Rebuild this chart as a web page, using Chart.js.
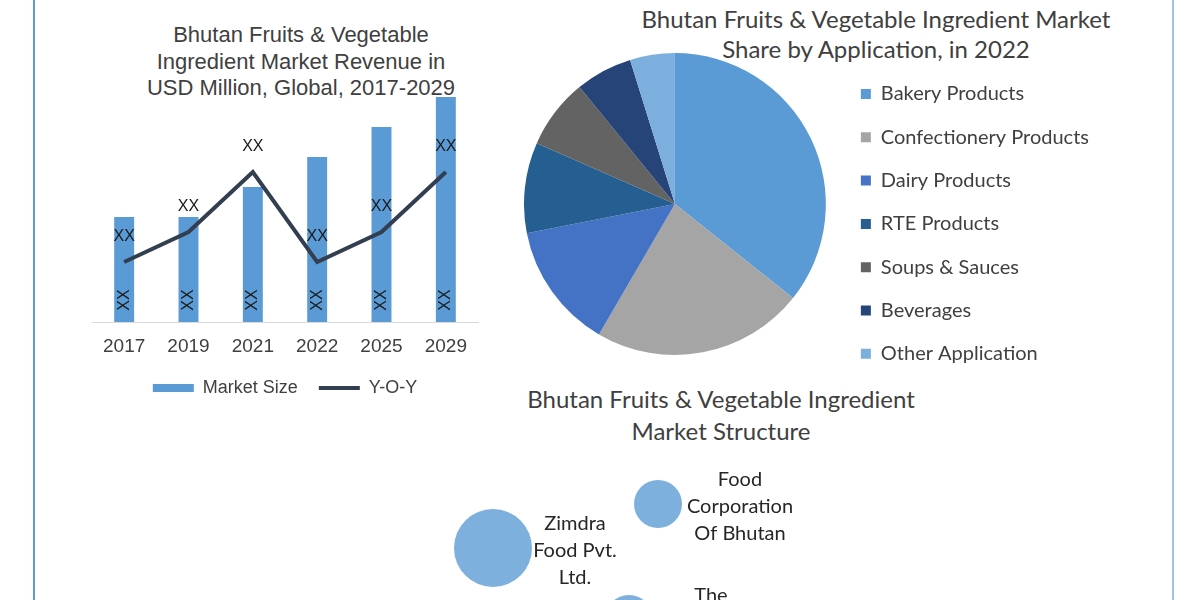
<!DOCTYPE html>
<html>
<head>
<meta charset="utf-8">
<title>Bhutan Fruits & Vegetable Ingredient Market</title>
<script src="https://cdn.jsdelivr.net/npm/chart.js@4"></script>
<style>
  body { margin: 0; background: #fff; width: 1200px; height: 600px; overflow: hidden; position: relative; }
  .frame-l { position: absolute; left: 33px; top: 0; width: 2px; height: 600px; background: #5b9bd5; }
  .frame-r { position: absolute; left: 1172px; top: 0; width: 2px; height: 600px; background: #9dc3e6; }
  canvas { position: absolute; }
  .title { position: absolute; text-align: center; color: #404040; }
  #barTitle { left: 101px; width: 400px; top: 22px; font: 22px/26.5px "Liberation Sans", Arial, sans-serif; }
  #pieTitle { left: 576px; width: 600px; top: 4px; font: 24px/30px Lato, "Noto Sans", sans-serif; }
  #bubbleTitle { left: 471px; width: 500px; top: 383px; font: 24px/32px Lato, "Noto Sans", sans-serif; }
</style>
</head>
<body>
<div class="frame-l"></div>
<div class="frame-r"></div>

<div class="title" id="barTitle">Bhutan Fruits &amp; Vegetable<br>Ingredient Market Revenue in<br>USD Million, Global, 2017-2029</div>
<div class="title" id="pieTitle">Bhutan Fruits &amp; Vegetable Ingredient Market<br>Share by Application, in 2022</div>
<div class="title" id="bubbleTitle">Bhutan Fruits &amp; Vegetable Ingredient<br>Market Structure</div>

<canvas id="barChart" width="600" height="420" style="left:0;top:0"></canvas>
<canvas id="pieChart" width="575" height="398" style="left:524px;top:5px"></canvas>
<canvas id="bubbleChart" width="500" height="200" style="left:400px;top:440px"></canvas>

<script>
// revenue chart
const years = ['2017', '2019', '2021', '2022', '2025', '2029'];
const marketSize = [3.5, 3.5, 4.5, 5.5, 6.5, 7.5];
const yoy = [2, 3, 5, 2, 3, 5];
const sizeLabels = ['XX', 'XX', 'XX', 'XX', 'XX', 'XX'];
const yoyLabels = ['XX', 'XX', 'XX', 'XX', 'XX', 'XX'];

// share by application
const applications = ['Bakery Products', 'Confectionery Products', 'Dairy Products', 'RTE Products',
  'Soups & Sauces', 'Beverages', 'Other Application'];
const shares = [35.7, 22.7, 13.5, 9.7, 7.5, 6.1, 4.8];
const shareColors = ['#5b9bd5', '#a5a5a5', '#4472c4', '#255e91', '#636363', '#264478', '#7cafdd'];

// market structure
const companies = [['Zimdra', 'Food Pvt.', 'Ltd.'], ['Food', 'Corporation', 'Of Bhutan'], ['The']];
const companyX = [1.86, 5.16, 4.58];
const companyY = [2.6, 4.8, -1.0];
const companyR = [39, 24, 25];

const sans = '"Liberation Sans", Arial, sans-serif';
const lato = 'Lato, "Noto Sans", sans-serif';

// draws the XX labels on bars and line
const xxLabels = {
  id: 'xxLabels',
  afterDatasetsDraw(chart) {
    const ctx = chart.ctx;
    const y0 = chart.scales.y.getPixelForValue(0);
    ctx.save();
    ctx.font = '16px ' + sans;
    ctx.fillStyle = '#1a1a1a';
    ctx.textAlign = 'center';
    ctx.textBaseline = 'middle';
    chart.getDatasetMeta(0).data.forEach((bar, i) => {
      ctx.save();
      ctx.translate(bar.x, y0 - 22);
      ctx.rotate(-Math.PI / 2);
      ctx.fillText(sizeLabels[i], 0, 0);
      ctx.restore();
    });
    chart.getDatasetMeta(1).data.forEach((pt, i) => {
      ctx.fillText(yoyLabels[i], pt.x, pt.y - 25);
    });
    ctx.restore();
  }
};

new Chart(document.getElementById('barChart'), {
  data: {
    labels: years,
    datasets: [{
      type: 'bar',
      label: 'Market Size',
      data: marketSize,
      backgroundColor: '#5b9bd5',
      categoryPercentage: 1,
      barPercentage: 0.31,
      pointStyle: 'rect',
      order: 1
    }, {
      type: 'line',
      label: 'Y-O-Y',
      data: yoy,
      borderColor: '#333f50',
      backgroundColor: '#333f50',
      borderWidth: 4,
      pointRadius: 0,
      pointStyle: 'line',
      tension: 0,
      order: 0
    }]
  },
  options: {
    responsive: false,
    animation: false,
    layout: { padding: { left: 92, right: 122, top: 82, bottom: 13 } },
    scales: {
      x: {
        grid: { display: false, drawTicks: false },
        border: { color: '#d9d9d9', width: 1 },
        ticks: { color: '#404040', padding: 13, font: { family: sans, size: 19 } },
        // keep the legend close under the year labels
        afterFit: (axis) => { axis.height = 36; }
      },
      y: { display: false, min: 0, max: 8 }
    },
    plugins: {
      tooltip: { enabled: false },
      legend: {
        position: 'bottom',
        labels: {
          usePointStyle: true,
          pointStyleWidth: 41,
          boxWidth: 41,
          boxHeight: 8,
          padding: 21,
          color: '#404040',
          font: { family: sans, size: 18 },
          sort: (a, b) => a.datasetIndex - b.datasetIndex
        }
      }
    }
  },
  plugins: [xxLabels]
});

new Chart(document.getElementById('pieChart'), {
  type: 'pie',
  data: {
    labels: applications,
    datasets: [{ data: shares, backgroundColor: shareColors, borderWidth: 0 }]
  },
  options: {
    responsive: false,
    animation: false,
    plugins: {
      tooltip: { enabled: false },
      legend: {
        position: 'right',
        align: 'start',
        // empty title only pushes the list down
        title: { display: true, text: '', padding: 0, font: { size: 10, lineHeight: '44px' } },
        labels: {
          boxWidth: 10,
          boxHeight: 10,
          padding: 35,
          color: '#404040',
          font: { family: lato, size: 20, lineHeight: '8.3px' },
          generateLabels: (chart) => Chart.overrides.doughnut.plugins.legend.labels.generateLabels(chart)
            .map(item => Object.assign(item, { text: [item.text] }))
        }
      }
    }
  }
});

// company names beside each bubble
const bubbleNames = {
  id: 'bubbleNames',
  afterDatasetsDraw(chart) {
    const ctx = chart.ctx;
    ctx.save();
    ctx.font = '20px ' + lato;
    ctx.fillStyle = '#262626';
    ctx.textAlign = 'center';
    ctx.textBaseline = 'middle';
    chart.getDatasetMeta(0).data.forEach((pt, i) => {
      companies[i].forEach((line, j) => {
        ctx.fillText(line, pt.x + 82, pt.y - 24 + j * 27);
      });
    });
    ctx.restore();
  }
};

new Chart(document.getElementById('bubbleChart'), {
  type: 'bubble',
  data: {
    datasets: [{
      data: companyX.map((x, i) => ({ x: x, y: companyY[i], r: companyR[i] })),
      backgroundColor: '#7eb0de',
      borderWidth: 0
    }]
  },
  options: {
    responsive: false,
    animation: false,
    layout: { autoPadding: false, padding: 0 },
    scales: {
      x: { display: false, min: 0, max: 10 },
      y: { display: false, min: -2, max: 8 }
    },
    plugins: { legend: { display: false }, tooltip: { enabled: false } }
  },
  plugins: [bubbleNames]
});
</script>
</body>
</html>
